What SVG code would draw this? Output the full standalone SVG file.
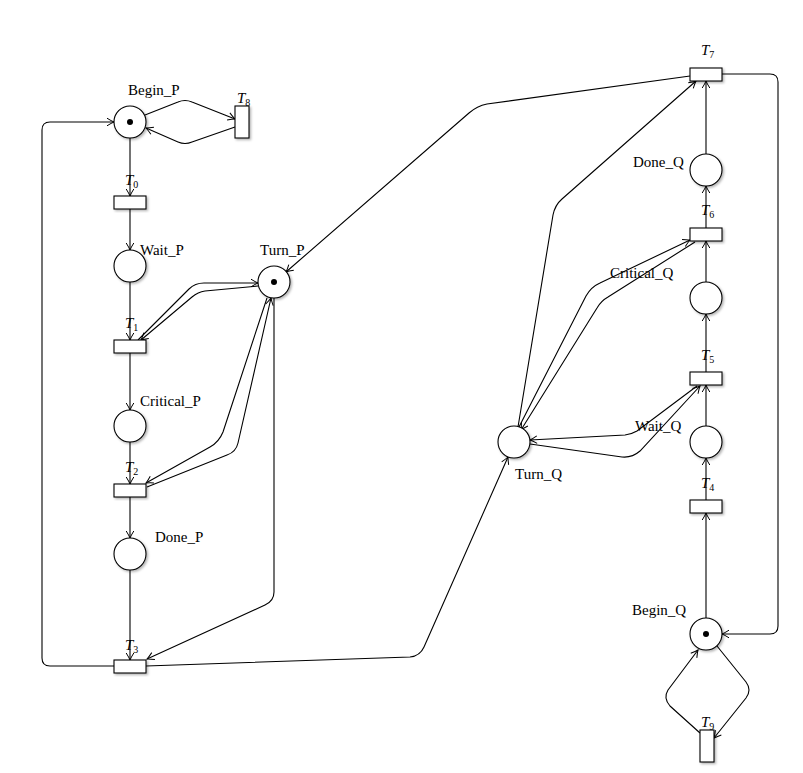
<svg xmlns="http://www.w3.org/2000/svg" width="803" height="773" viewBox="0 0 803 773">
<style>
.pl{fill:#fff;stroke:#000;stroke-width:1.1;filter:url(#sh)}
.tr{fill:#fff;stroke:#000;stroke-width:1.1;filter:url(#sh)}
.tok{fill:#000}
.e{fill:none;stroke:#000;stroke-width:1.1;marker-end:url(#ar)}
.lb{font-family:"Liberation Serif",serif;font-size:15px;fill:#000}
.it{font-style:italic}
.sb{font-size:10px}
</style>
<defs>
<filter id="sh" x="-30%" y="-30%" width="160%" height="160%">
<feDropShadow dx="1.5" dy="1.5" stdDeviation="1.2" flood-color="#000" flood-opacity="0.3"/>
</filter>
<marker id="ar" markerUnits="userSpaceOnUse" markerWidth="12" markerHeight="12" viewBox="-9 -6 12 12" refX="0" refY="0" orient="auto">
<path d="M-7,-3.8 Q-2.5,-1 0,0 Q-2.5,1 -7,3.8" fill="none" stroke="#000" stroke-width="1"/>
</marker>
</defs>
<g id="connectors">
<path class="e" d="M130,138 V196"/>
<path class="e" d="M130,209 V250"/>
<path class="e" d="M130,282 V340"/>
<path class="e" d="M130,353 V410"/>
<path class="e" d="M130,442 V484"/>
<path class="e" d="M130,497 V538"/>
<path class="e" d="M130,570 V660"/>
<path class="e" d="M114,666 H50 Q42,666 42,658 V130 Q42,122 50,122 H114"/>
<path class="e" d="M145,115 L178,102 Q185,99 192,102 L235,119"/>
<path class="e" d="M235,127 L192,142 Q185,145 178,142 L146,128"/>
<path class="e" d="M138,340 L189,289 Q195,283 204,283 L258,283"/>
<path class="e" d="M258,286 L205,291 Q198,292 192,297 L141,340"/>
<path class="e" d="M267,298 L223,432 Q219,442 210,447 L146,483"/>
<path class="e" d="M147,487 L227,455 Q236,452 238,443 L271,298"/>
<path class="e" d="M274,298 V592 Q274,601 265,605 L147,659"/>
<path class="e" d="M146,666 L410,657 Q420,656 424,647 L508,457"/>
<path class="e" d="M690,76 L487,104 Q477,106 469,113 L286,272"/>
<path class="e" d="M518,427 L553,215 Q555,205 562,199 L696,81"/>
<path class="e" d="M519,427 L586,296 Q591,287 600,283 L690,240"/>
<path class="e" d="M695,242 L608,297 Q601,301 597,308 L521,430"/>
<path class="e" d="M697,386 L637,431 Q632,434 625,435 L530,440"/>
<path class="e" d="M530,444 L622,457 Q632,458 640,451 L700,386"/>
<path class="e" d="M706,618 V513"/>
<path class="e" d="M706,500 V458"/>
<path class="e" d="M706,426 V385"/>
<path class="e" d="M706,372 V314"/>
<path class="e" d="M706,282 V241"/>
<path class="e" d="M706,228 V186"/>
<path class="e" d="M706,154 V81"/>
<path class="e" d="M722,74 H770 Q778,74 778,82 V626 Q778,634 770,634 H722"/>
<path class="e" d="M717,646 L746,682 Q752,690 746,698 L714,738"/>
<path class="e" d="M700,733 L670,706 Q663,698 668,690 L698,650"/>
</g>
<g id="Begin_P"><circle class="pl" cx="130" cy="122" r="16"/><circle class="tok" cx="130" cy="122" r="3"/><text class="lb" x="128" y="95">Begin_P</text></g>
<g id="Wait_P"><circle class="pl" cx="130" cy="266" r="16"/><text class="lb" x="140" y="255">Wait_P</text></g>
<g id="Critical_P"><circle class="pl" cx="130" cy="426" r="16"/><text class="lb" x="140" y="406">Critical_P</text></g>
<g id="Done_P"><circle class="pl" cx="130" cy="554" r="16"/><text class="lb" x="155" y="542">Done_P</text></g>
<g id="Turn_P"><circle class="pl" cx="274" cy="282" r="16"/><circle class="tok" cx="274" cy="282" r="3"/><text class="lb" x="260" y="255">Turn_P</text></g>
<g id="Turn_Q"><circle class="pl" cx="514" cy="442" r="16"/><text class="lb" x="515" y="479">Turn_Q</text></g>
<g id="Done_Q"><circle class="pl" cx="706" cy="170" r="16"/><text class="lb" x="633" y="167">Done_Q</text></g>
<g id="Critical_Q"><circle class="pl" cx="706" cy="298" r="16"/><text class="lb" x="610" y="278">Critical_Q</text></g>
<g id="Wait_Q"><circle class="pl" cx="706" cy="442" r="16"/><text class="lb" x="635" y="431">Wait_Q</text></g>
<g id="Begin_Q"><circle class="pl" cx="706" cy="634" r="16"/><circle class="tok" cx="706" cy="634" r="3"/><text class="lb" x="632" y="615">Begin_Q</text></g>
<g id="T0"><rect class="tr" x="114" y="196" width="32" height="13"/><text class="lb" x="125" y="185"><tspan class="it">T</tspan><tspan class="sb" dy="3">0</tspan></text></g>
<g id="T1"><rect class="tr" x="114" y="340" width="32" height="13"/><text class="lb" x="125" y="328"><tspan class="it">T</tspan><tspan class="sb" dy="3">1</tspan></text></g>
<g id="T2"><rect class="tr" x="114" y="484" width="32" height="13"/><text class="lb" x="125" y="472"><tspan class="it">T</tspan><tspan class="sb" dy="3">2</tspan></text></g>
<g id="T3"><rect class="tr" x="114" y="660" width="32" height="13"/><text class="lb" x="125" y="650"><tspan class="it">T</tspan><tspan class="sb" dy="3">3</tspan></text></g>
<g id="T4"><rect class="tr" x="690" y="500" width="32" height="13"/><text class="lb" x="701" y="488"><tspan class="it">T</tspan><tspan class="sb" dy="3">4</tspan></text></g>
<g id="T5"><rect class="tr" x="690" y="372" width="32" height="13"/><text class="lb" x="701" y="360"><tspan class="it">T</tspan><tspan class="sb" dy="3">5</tspan></text></g>
<g id="T6"><rect class="tr" x="690" y="228" width="32" height="13"/><text class="lb" x="701" y="215"><tspan class="it">T</tspan><tspan class="sb" dy="3">6</tspan></text></g>
<g id="T7"><rect class="tr" x="690" y="68" width="32" height="13"/><text class="lb" x="701" y="55"><tspan class="it">T</tspan><tspan class="sb" dy="3">7</tspan></text></g>
<g id="T8"><rect class="tr" x="235" y="106" width="14" height="32"/><text class="lb" x="237" y="103"><tspan class="it">T</tspan><tspan class="sb" dy="3">8</tspan></text></g>
<g id="T9"><rect class="tr" x="700" y="730" width="14" height="32"/><text class="lb" x="701" y="727"><tspan class="it">T</tspan><tspan class="sb" dy="3">9</tspan></text></g>
</svg>
